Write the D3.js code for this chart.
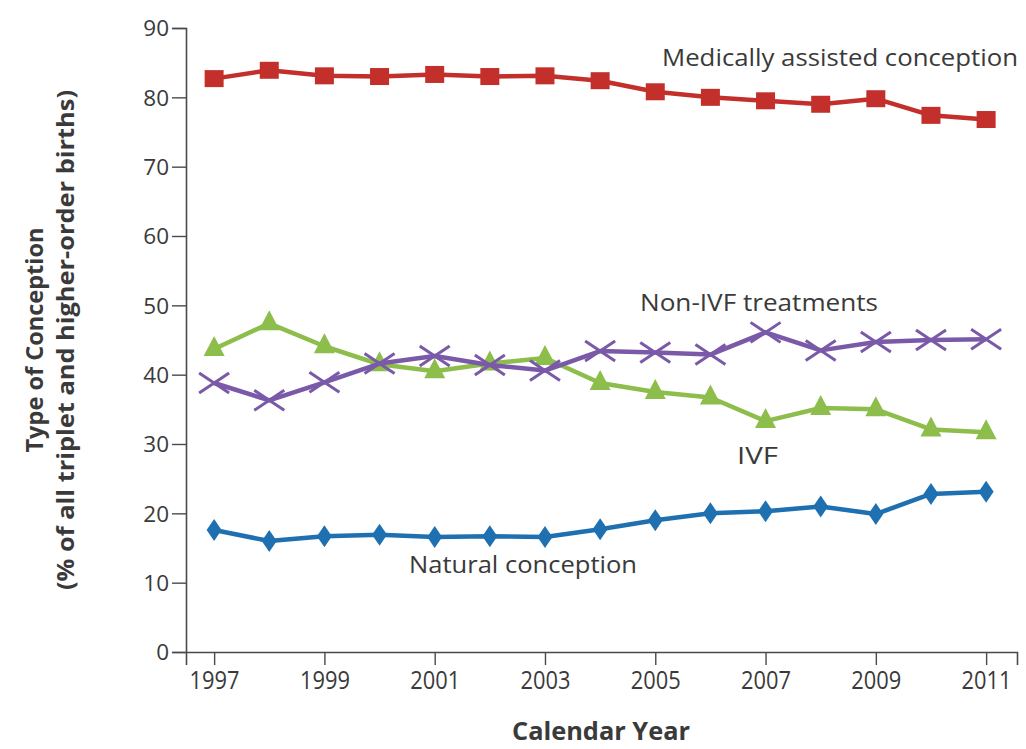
<!DOCTYPE html>
<html><head><meta charset="utf-8">
<script src="https://cdn.jsdelivr.net/npm/d3@7"></script>
<style>body{margin:0;background:#fff}text{font-family:"Open Sans","Noto Sans",sans-serif;fill:#3a3a3a}</style>
</head><body><svg id="c" width="1026" height="749"></svg>
<script>
const years = [1997,1998,1999,2000,2001,2002,2003,2004,2005,2006,2007,2008,2009,2010,2011];
const tickYears = [1997,1999,2001,2003,2005,2007,2009,2011];
const yTicks = [0,10,20,30,40,50,60,70,80,90];
const medical = [82.7,83.9,83.1,83.0,83.3,83.0,83.1,82.4,80.8,80.0,79.5,79.0,79.8,77.4,76.8];
const ivf = [43.7,47.4,44.1,41.5,40.5,41.6,42.4,38.8,37.5,36.7,33.3,35.2,35.0,32.1,31.7];
const nonIvf = [38.8,36.3,38.9,41.6,42.7,41.4,40.6,43.4,43.2,42.9,46.1,43.5,44.7,45.0,45.1];
const natural = [17.6,16.0,16.7,16.9,16.6,16.7,16.6,17.7,19.0,20.0,20.3,21.0,19.9,22.8,23.1];

const svg = d3.select("#c");
const x = d3.scaleLinear().domain([1996.49, 2011.56]).range([186, 1017]);
const y = d3.scaleLinear().domain([0, 90]).range([652, 28]);

const ya = svg.append("g").attr("transform","translate(186,0)")
  .call(d3.axisLeft(y).tickValues(yTicks).tickSize(14).tickPadding(3).tickFormat(d3.format("d")));
const xa = svg.append("g").attr("transform","translate(0,652)")
  .call(d3.axisBottom(x).tickValues(tickYears).tickSize(13).tickPadding(6).tickFormat(d3.format("d")));
[ya,xa].forEach(a=>{
  a.select(".domain").attr("stroke","#4a4a4a").attr("stroke-width",1.6);
  a.selectAll(".tick line").attr("stroke","#4a4a4a").attr("stroke-width",1.4);
  a.selectAll(".tick text").attr("fill","#3a3a3a");
});
ya.selectAll(".tick text").style("font-size","22.5px").attr("dy","0.35em");
const xW = 50;
xa.selectAll(".tick text").style("font-size","26px").attr("dy","0.71em")
  .attr("text-anchor","start").attr("x",-xW/2)
  .attr("textLength",xW).attr("lengthAdjust","spacingAndGlyphs");

const calW = 178;
svg.append("text").attr("x",601-calW/2).attr("y",740)
  .style("font-size","25px").style("font-weight","bold")
  .attr("textLength",calW).attr("lengthAdjust","spacingAndGlyphs").text("Calendar Year");
const yt = svg.append("text").attr("transform","translate(43,340) rotate(-90)")
  .style("font-size","23px").style("font-weight","bold");
yt.append("tspan").attr("x",-112.5).attr("y",0).attr("textLength",225).attr("lengthAdjust","spacingAndGlyphs").text("Type of Conception");
yt.append("tspan").attr("x",-250).attr("y",31).attr("textLength",500).attr("lengthAdjust","spacingAndGlyphs").text("(% of all triplet and higher-order births)");

const line = d3.line().x((d,i)=>x(years[i])).y(d=>y(d));
const series = [
  {v:medical, c:"#c3302c", m:"square"},
  {v:ivf, c:"#8dbd4b", m:"tri"},
  {v:nonIvf, c:"#7a5aa8", m:"x"},
  {v:natural, c:"#1f70b0", m:"diamond"}
];
series.forEach(s=>{
  svg.append("path").datum(s.v).attr("d",line).attr("fill","none")
    .attr("stroke",s.c).attr("stroke-width",4.5).attr("stroke-linejoin","round");
  const g = svg.append("g");
  s.v.forEach((d,i)=>{
    const cx = x(years[i]), cy = y(d);
    if (s.m==="square") g.append("rect").attr("x",cx-9.5).attr("y",cy-8.5).attr("width",19).attr("height",17).attr("fill",s.c);
    else if (s.m==="tri") g.append("path").attr("d",`M${cx},${cy-13}L${cx+10.5},${cy+7}L${cx-10.5},${cy+7}Z`).attr("fill",s.c);
    else if (s.m==="diamond") g.append("path").attr("d",`M${cx},${cy-11}L${cx+7.5},${cy}L${cx},${cy+11}L${cx-7.5},${cy}Z`).attr("fill",s.c);
    else g.append("path").attr("d",`M${cx-15},${cy-10}L${cx+15},${cy+10}M${cx-15},${cy+10}L${cx+15},${cy-10}`)
      .attr("stroke",s.c).attr("stroke-width",3);
  });
});

const labels = [
  {t:"Medically assisted conception", x:662, y:66, w:356},
  {t:"Non-IVF treatments", x:640, y:311, w:238},
  {t:"IVF", x:737, y:464, w:41},
  {t:"Natural conception", x:409, y:573, w:228}
];
labels.forEach(l=>svg.append("text").attr("x",l.x).attr("y",l.y).style("font-size","23px")
  .attr("textLength",l.w).attr("lengthAdjust","spacingAndGlyphs").text(l.t));
</script></body></html>
